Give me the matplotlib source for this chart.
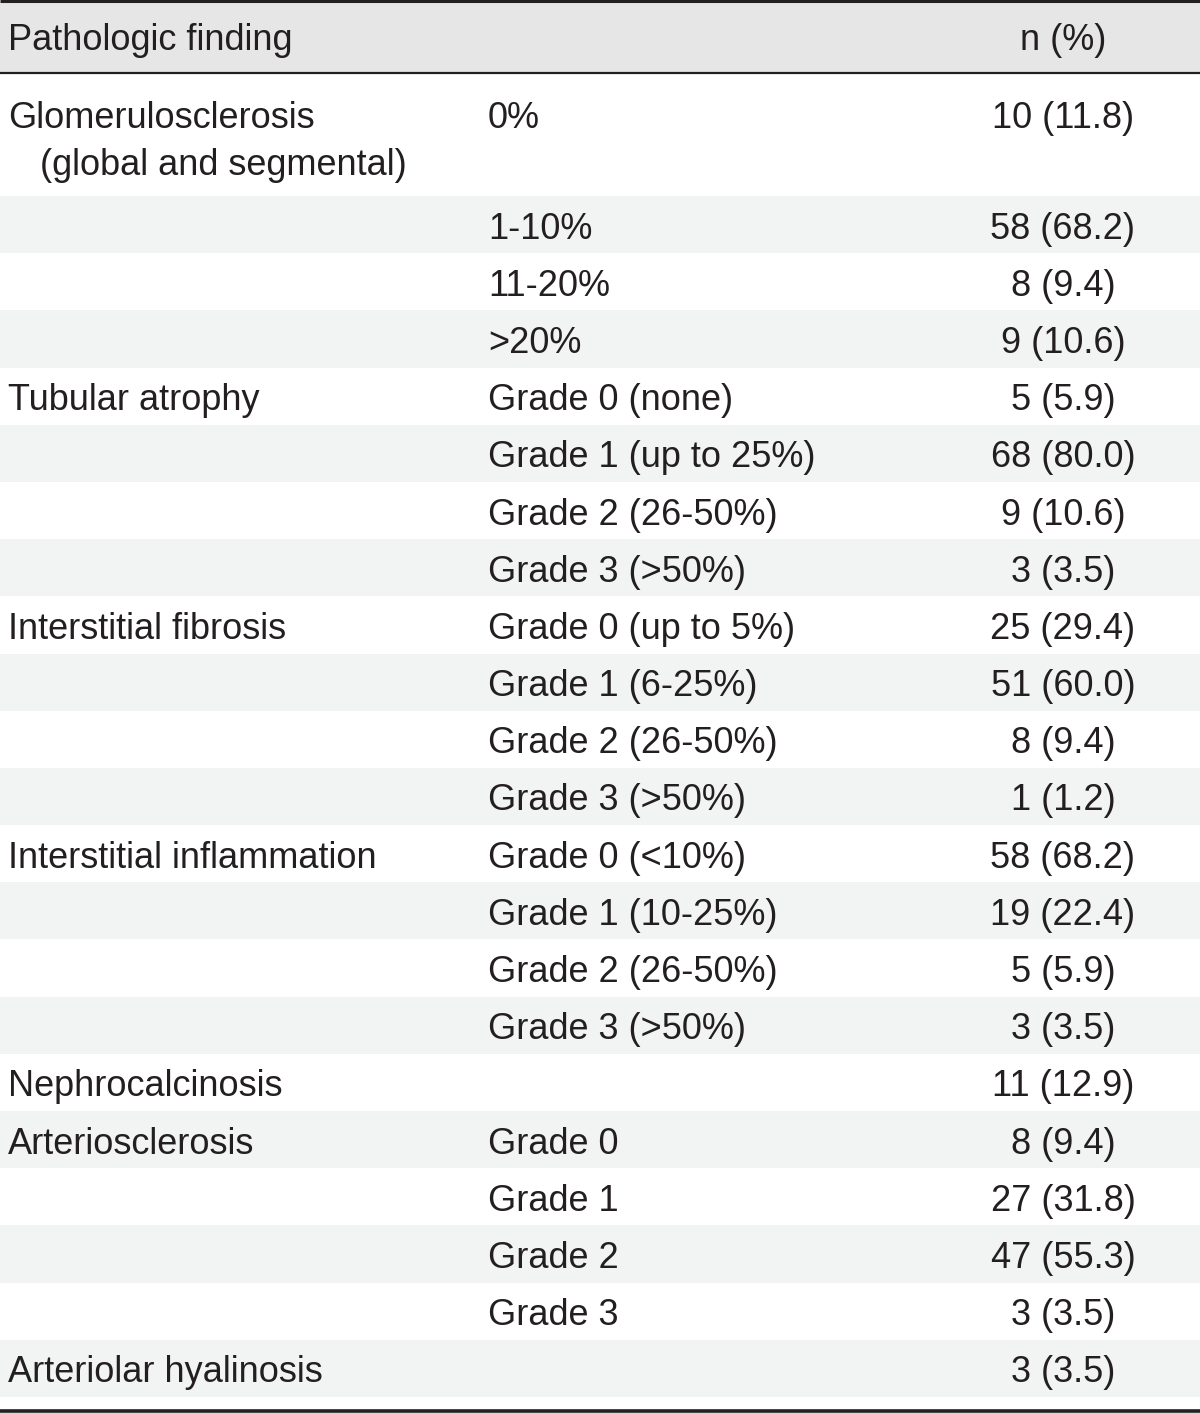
import matplotlib
matplotlib.use('Agg')
import matplotlib.pyplot as plt
from matplotlib.patches import Rectangle

plt.rcParams['font.family'] = ['Liberation Sans', 'DejaVu Sans']

# table data
findings = ['Glomerulosclerosis\n  (global and segmental)', '', '', '',
            'Tubular atrophy', '', '', '',
            'Interstitial fibrosis', '', '', '',
            'Interstitial inflammation', '', '', '',
            'Nephrocalcinosis',
            'Arteriosclerosis', '', '', '',
            'Arteriolar hyalinosis']
grades = ['0%', '1-10%', '11-20%', '>20%',
          'Grade 0 (none)', 'Grade 1 (up to 25%)', 'Grade 2 (26-50%)', 'Grade 3 (>50%)',
          'Grade 0 (up to 5%)', 'Grade 1 (6-25%)', 'Grade 2 (26-50%)', 'Grade 3 (>50%)',
          'Grade 0 (<10%)', 'Grade 1 (10-25%)', 'Grade 2 (26-50%)', 'Grade 3 (>50%)',
          '',
          'Grade 0', 'Grade 1', 'Grade 2', 'Grade 3',
          '']
counts = [10, 58, 8, 9, 5, 68, 9, 3, 25, 51, 8, 1, 58, 19, 5, 3, 11, 8, 27, 47, 3, 3]
percents = [11.8, 68.2, 9.4, 10.6, 5.9, 80.0, 10.6, 3.5, 29.4, 60.0, 9.4, 1.2,
            68.2, 22.4, 5.9, 3.5, 12.9, 9.4, 31.8, 55.3, 3.5, 3.5]

W, H = 1200, 1413
fig = plt.figure(figsize=(W / 100, H / 100), dpi=100)
ax = fig.add_axes([0, 0, 1, 1])
ax.set_xlim(0, W)
ax.set_ylim(H, 0)
ax.axis('off')

txt = '#231f20'
fs = 26
x1, x2, x3 = 8, 488, 1063

# header
ax.add_patch(Rectangle((0, 2), W, 70, color='#e6e6e6', lw=0))
ax.text(x1, 50, 'Pathologic finding', fontsize=fs, color=txt, va='baseline')
ax.text(x3, 50, 'n (%)', fontsize=fs, color=txt, va='baseline', ha='center')

# first (tall) row
first_top, first_bot = 74, 196
row_h = (1397 - first_bot) / (len(findings) - 1)
ax.text(x1, 128, 'Glomerulosclerosis', fontsize=fs, color=txt, va='baseline')
ax.text(x1 + 32, 175, '(global and segmental)', fontsize=fs, color=txt, va='baseline')
ax.text(x2, 128, grades[0], fontsize=fs, color=txt, va='baseline')
ax.text(x3, 128, f'{counts[0]} ({percents[0]:.1f})', fontsize=fs, color=txt,
        va='baseline', ha='center')

for i in range(1, len(findings)):
    top = first_bot + (i - 1) * row_h
    if (i - 1) % 2 == 0:
        ax.add_patch(Rectangle((0, top), W, row_h, color='#f2f3f3', lw=0))
    base = top + row_h / 2 + 14
    ax.text(x1, base, findings[i], fontsize=fs, color=txt, va='baseline')
    ax.text(x2, base, grades[i], fontsize=fs, color=txt, va='baseline')
    ax.text(x3, base, f'{counts[i]} ({percents[i]:.1f})', fontsize=fs, color=txt,
            va='baseline', ha='center')

# rules
ax.plot([0, W], [1, 1], color=txt, lw=2.2, solid_capstyle='butt')
ax.plot([0, W], [72.5, 72.5], color=txt, lw=1.6, solid_capstyle='butt')
ax.plot([0, W], [1411, 1411], color=txt, lw=2.6, solid_capstyle='butt')

fig.savefig('out.png', dpi=100)
